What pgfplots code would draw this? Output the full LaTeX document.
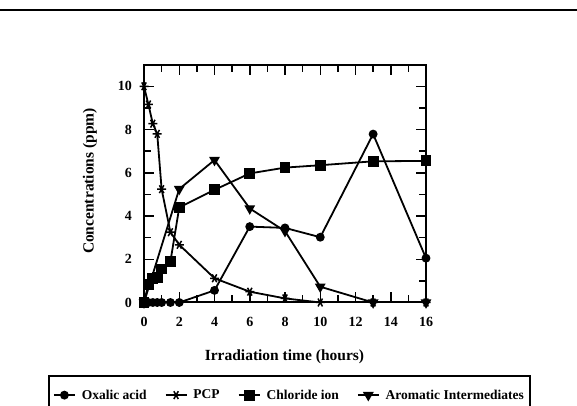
\documentclass[border=0pt]{standalone}
\usepackage{pgfplots}
\pgfplotsset{compat=1.18}
\usepackage{fontspec}
\setmainfont{Liberation Serif}
\begin{document}
\begin{tikzpicture}[x=1pt,y=1pt]
\useasboundingbox (0,0) rectangle (577,406);
\draw[line width=2pt] (0,396) -- (577,396);
\begin{axis}[
  at={(144pt,103.5pt)}, anchor=south west,
  scale only axis, width=282pt, height=237.8pt,
  xmin=0, xmax=16, ymin=0, ymax=11,
  xtick={0,2,...,16}, minor xtick={1,3,...,15},
  ytick={0,2,...,10}, minor ytick={1,3,...,9},
  tick align=inside,
  major tick length=10pt, minor tick length=7pt,
  every tick/.style={black, line width=1.5pt},
  axis line style={line width=2pt},
  /pgf/number format/assume math mode=true,
  tick label style={font=\fontsize{14}{16}\selectfont\bfseries},
  xticklabel style={yshift=-11pt},
  yticklabel style={xshift=-8.5pt},
  xlabel={Irradiation time (hours)},
  ylabel={Concentrations (ppm)},
  label style={font=\fontsize{15.5}{17}\selectfont\bfseries},
  xlabel style={at={(axis description cs:0.498,-0.2296)}, anchor=center},
  ylabel style={at={(axis description cs:-0.1915,0.511)}, anchor=center},
  legend columns=4,
  legend style={at={(axis description cs:-0.3404,-0.3036)}, anchor=north west,
    draw=black, line width=2pt, inner xsep=4pt, inner ysep=12pt,
    font=\fontsize{13.5}{15}\selectfont\bfseries,
    nodes={inner sep=2pt},
    /tikz/every odd column/.append style={column sep=4pt},
    /tikz/every even column/.append style={column sep=16pt}},
  legend image code/.code={\draw[mark repeat=2,mark phase=2,#1] plot coordinates {(0pt,0pt) (10.5pt,0pt) (21pt,0pt)};},
  every axis plot/.append style={black, line width=1.8pt},
]
\addplot[mark=*, mark size=3.5pt] coordinates {
(0,0)(0.25,0)(0.5,0)(0.75,0)(1,0)(1.5,0)(2,0)(4,0.56)(6,3.51)(8,3.45)(10,3.02)(13,7.79)(16,2.05)};
\addlegendentry{Oxalic acid}
\addplot[mark=asterisk, mark size=4.5pt, mark options={rotate=90, line width=1.5pt}] coordinates {
(0,10)(0.25,9.16)(0.5,8.27)(0.75,7.8)(1,5.24)(1.5,3.25)(2,2.67)(4,1.12)(6,0.5)(8,0.19)(10,0)(13,0)(16,0)};
\addlegendentry{PCP}
\addplot[mark=square*, mark size=4.5pt] coordinates {
(0,0)(0.25,0.85)(0.5,1.12)(0.75,1.17)(1,1.55)(1.5,1.9)(2,4.4)(4,5.21)(6,5.97)(8,6.24)(10,6.35)(13,6.53)(16,6.55)};
\addlegendentry{Chloride ion}
\addplot[mark=triangle*, mark size=4.5pt, mark options={rotate=180}] coordinates {
(0,0)(2,5.25)(4,6.59)(6,4.35)(8,3.3)(10,0.73)(13,0)(16,0)};
\addlegendentry{Aromatic Intermediates}
\end{axis}
\end{tikzpicture}
\end{document}
